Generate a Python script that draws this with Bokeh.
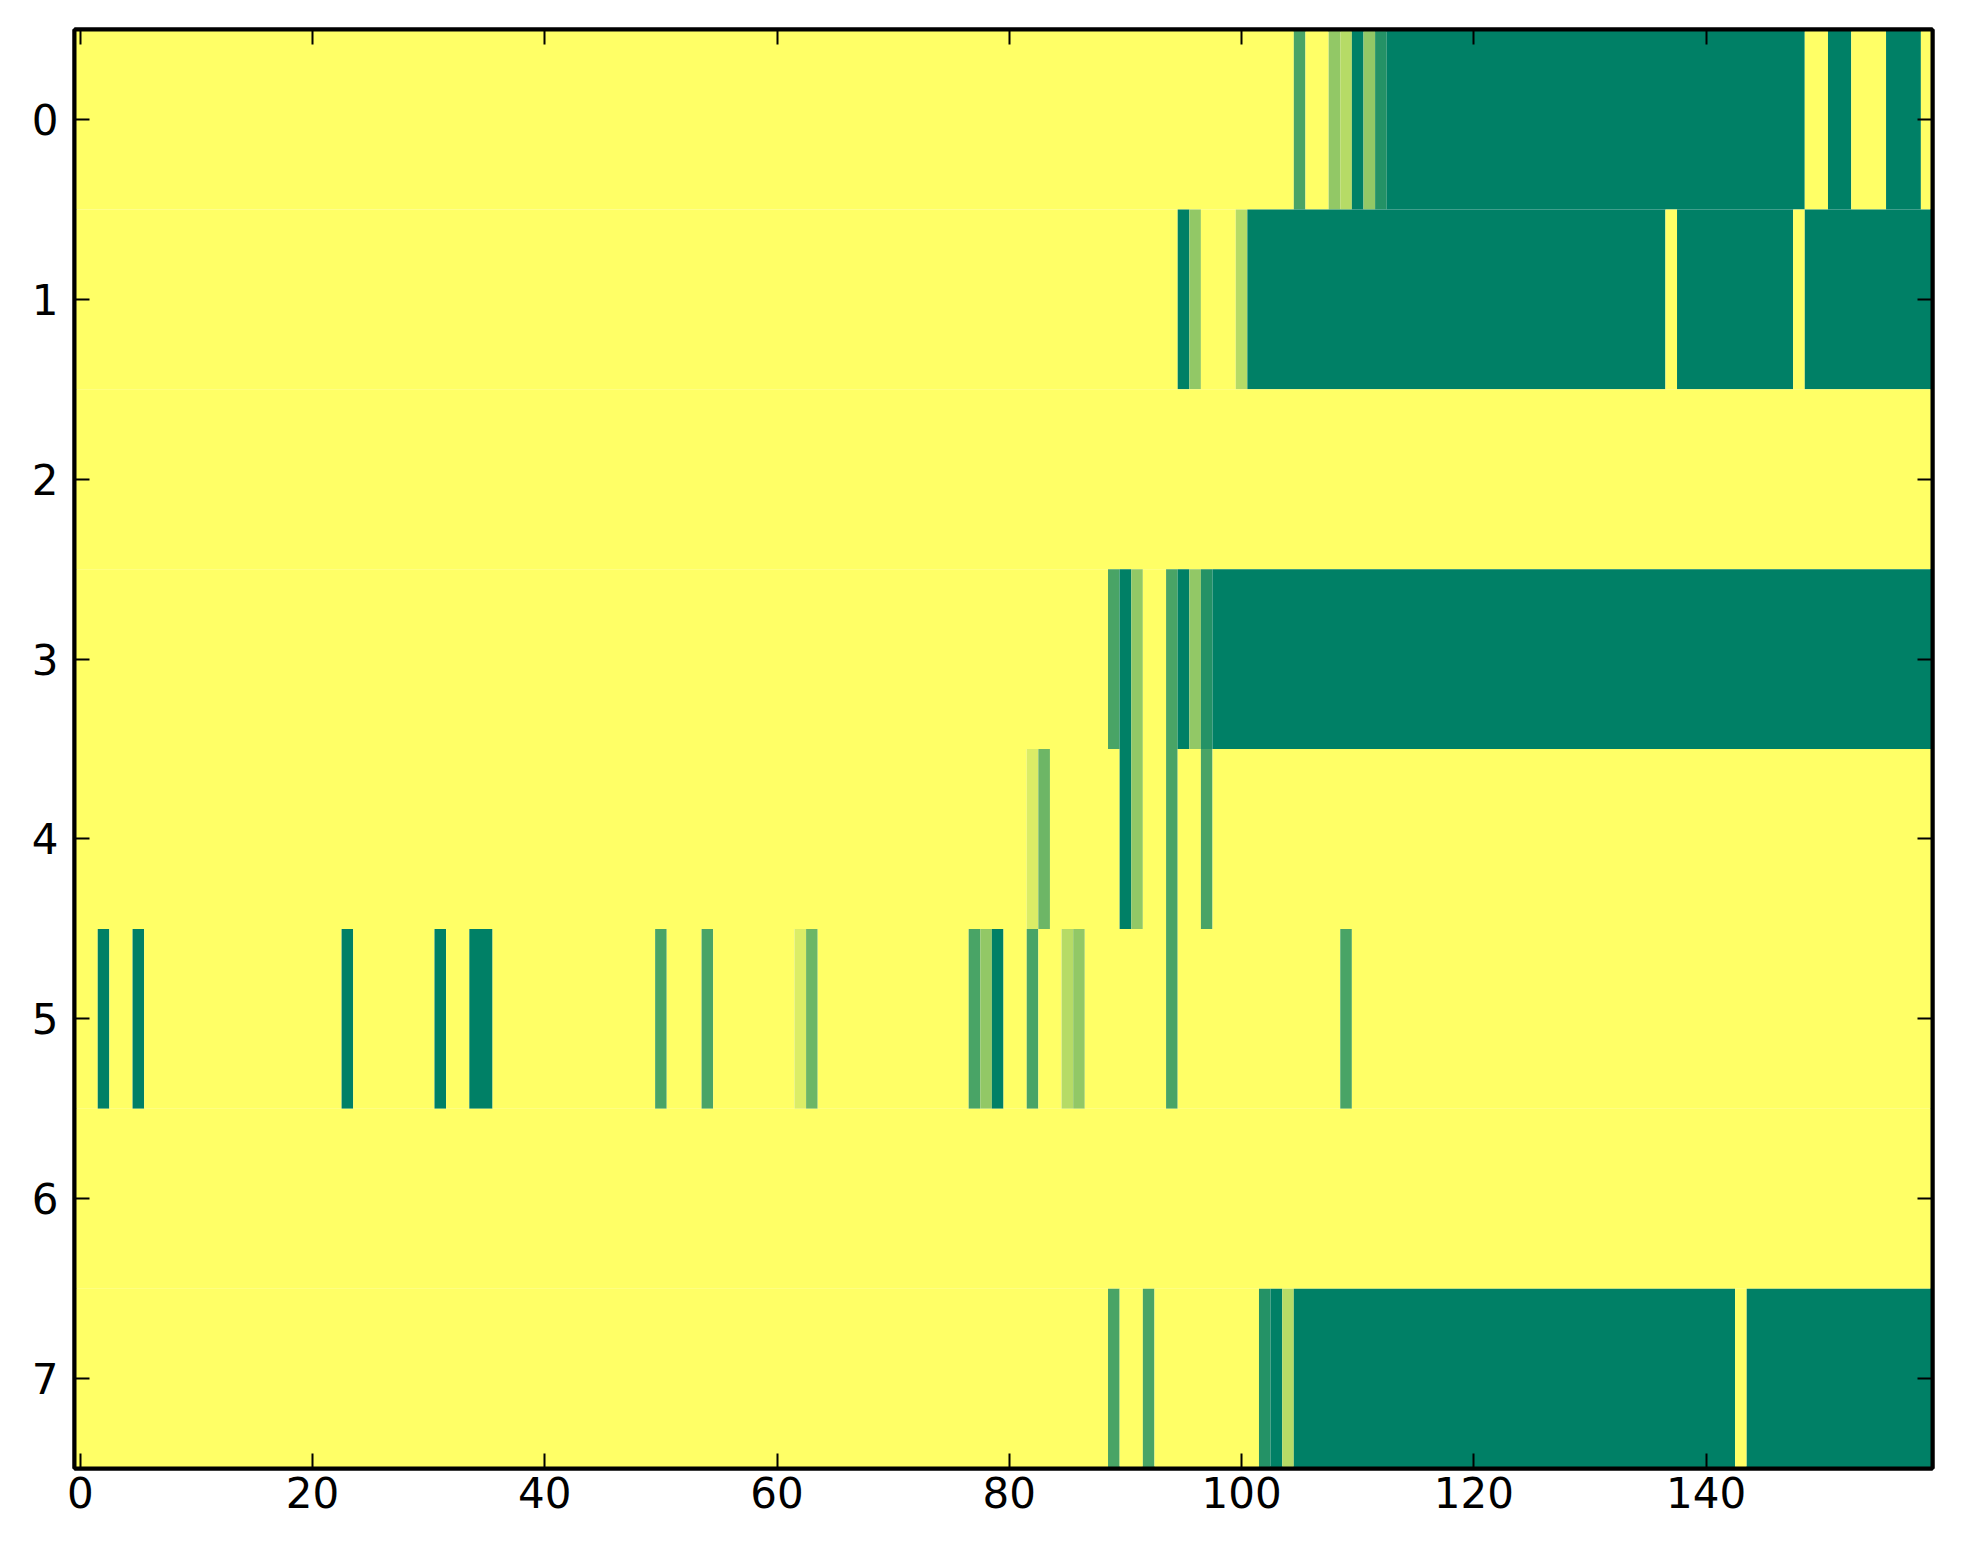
from bokeh.plotting import figure
from bokeh.models import Range1d, LinearAxis, FixedTicker, ColumnDataSource
from bokeh.embed import file_html
from bokeh.resources import INLINE

# 8 rows x 160 columns, each cell a level 0..7 (0 = yellow, 7 = dark green)
rows = [0, 1, 2, 3, 4, 5, 6, 7]
x_ticks = [0, 20, 40, 60, 80, 100, 120, 140]
n_cols = 160

row_0 = ("0000000000" "0000000000" "0000000000" "0000000000"
         "0000000000" "0000000000" "0000000000" "0000000000"
         "0000000000" "0000000000" "00000" "50032736" "7777777"
         "7777777777" "7777777777" "777777777" "00" "77" "000" "777" "0")
row_1 = ("0000000000" "0000000000" "0000000000" "0000000000"
         "0000000000" "0000000000" "0000000000" "0000000000"
         "0000000000" "00000" "73" "000" "2" "7777777777" "777777777"
         "7777777777" "7777777" "0" "7777777777" "0" "7777777777" "7")
row_2 = ("0000000000" "0000000000" "0000000000" "0000000000"
         "0000000000" "0000000000" "0000000000" "0000000000"
         "0000000000" "0000000000" "0000000000" "0000000000"
         "0000000000" "0000000000" "0000000000" "0000000000")
row_3 = ("0000000000" "0000000000" "0000000000" "0000000000"
         "0000000000" "0000000000" "0000000000" "0000000000"
         "000000000" "5" "7" "3" "00" "5" "7" "3" "6" "7777777777" "7777777777" "77"
         "7777777777" "7777777777" "7777777777" "7777777777")
row_4 = ("0000000000" "0000000000" "0000000000" "0000000000"
         "0000000000" "0000000000" "0000000000" "0000000000"
         "00" "14" "000000" "73" "00" "5" "00" "5" "0000000000" "0000000000" "00"
         "0000000000" "0000000000" "0000000000" "0000000000")
row_5 = ("007007" "0000000000" "0000000" "7" "0000000" "7" "00" "77" "0000"
         "0000000000" "5" "000" "5" "0000000" "1" "4" "0000000000" "000" "5" "3" "7"
         "00" "5" "00" "2" "3" "0000000" "5" "0000000000" "0000" "5" "0000000000"
         "0000000000" "0000000000" "0000000000" "0000000000")
row_6 = ("0000000000" "0000000000" "0000000000" "0000000000"
         "0000000000" "0000000000" "0000000000" "0000000000"
         "0000000000" "0000000000" "0000000000" "0000000000"
         "0000000000" "0000000000" "0000000000" "0000000000")
row_7 = ("0000000000" "0000000000" "0000000000" "0000000000"
         "0000000000" "0000000000" "0000000000" "0000000000"
         "000000000" "5" "00" "5" "000000000" "6" "7" "2" "7777777777" "77777"
         "7777777777" "7777777777" "777" "0" "7777777777" "777777")

grid = [row_0, row_1, row_2, row_3, row_4, row_5, row_6, row_7]
for line in grid:
    assert len(line) == n_cols, len(line)

# summer_r sampled at k/7
palette = ["#ffff66", "#dbed66", "#b6db66", "#92c866",
           "#6db666", "#49a466", "#249266", "#008066"]

# merge equal neighbouring cells into runs so no seams show
left, right, top, bottom, color = [], [], [], [], []
for r, line in zip(rows, grid):
    start = 0
    for c in range(1, n_cols + 1):
        if c == n_cols or line[c] != line[start]:
            left.append(start - 0.5)
            right.append(c - 0.5)
            top.append(r - 0.5)
            bottom.append(r + 0.5)
            color.append(palette[int(line[start])])
            start = c

src = ColumnDataSource(dict(left=left, right=right, top=top, bottom=bottom, color=color))

p = figure(frame_width=1858, frame_height=1439,
           x_range=Range1d(-0.5, 159.5), y_range=Range1d(7.5, -0.5),
           output_backend="svg", toolbar_location=None,
           min_border_left=74, min_border_right=15, min_border_top=29, min_border_bottom=80)
p.quad(left="left", right="right", top="top", bottom="bottom", source=src,
       fill_color="color", line_color=None)

p.grid.visible = False
p.outline_line_color = "black"
p.outline_line_width = 4
p.background_fill_color = "white"
p.border_fill_color = "white"

def style_axis(ax, ticks, show_labels):
    ax.ticker = FixedTicker(ticks=ticks)
    ax.axis_line_color = "black"
    ax.axis_line_width = 4
    ax.major_tick_in = 15
    ax.major_tick_out = 0
    ax.major_tick_line_width = 2
    ax.major_tick_line_color = "black"
    ax.minor_tick_line_color = None
    if show_labels:
        ax.major_label_text_font = "DejaVu Sans"
        ax.major_label_text_font_size = "42px"
        ax.major_label_text_color = "black"
    else:
        # tick marks only on the top and right sides
        ax.major_label_text_font_size = "1px"
        ax.major_label_text_color = None
        ax.major_label_standoff = 0

style_axis(p.xaxis[0], x_ticks, True)
style_axis(p.yaxis[0], rows, True)
p.xaxis[0].major_label_standoff = 8
p.yaxis[0].major_label_standoff = 16

top_axis = LinearAxis()
style_axis(top_axis, x_ticks, False)
p.add_layout(top_axis, "above")
right_axis = LinearAxis()
style_axis(right_axis, rows, False)
p.add_layout(right_axis, "right")

open("out.html", "w").write(file_html(p, INLINE))
